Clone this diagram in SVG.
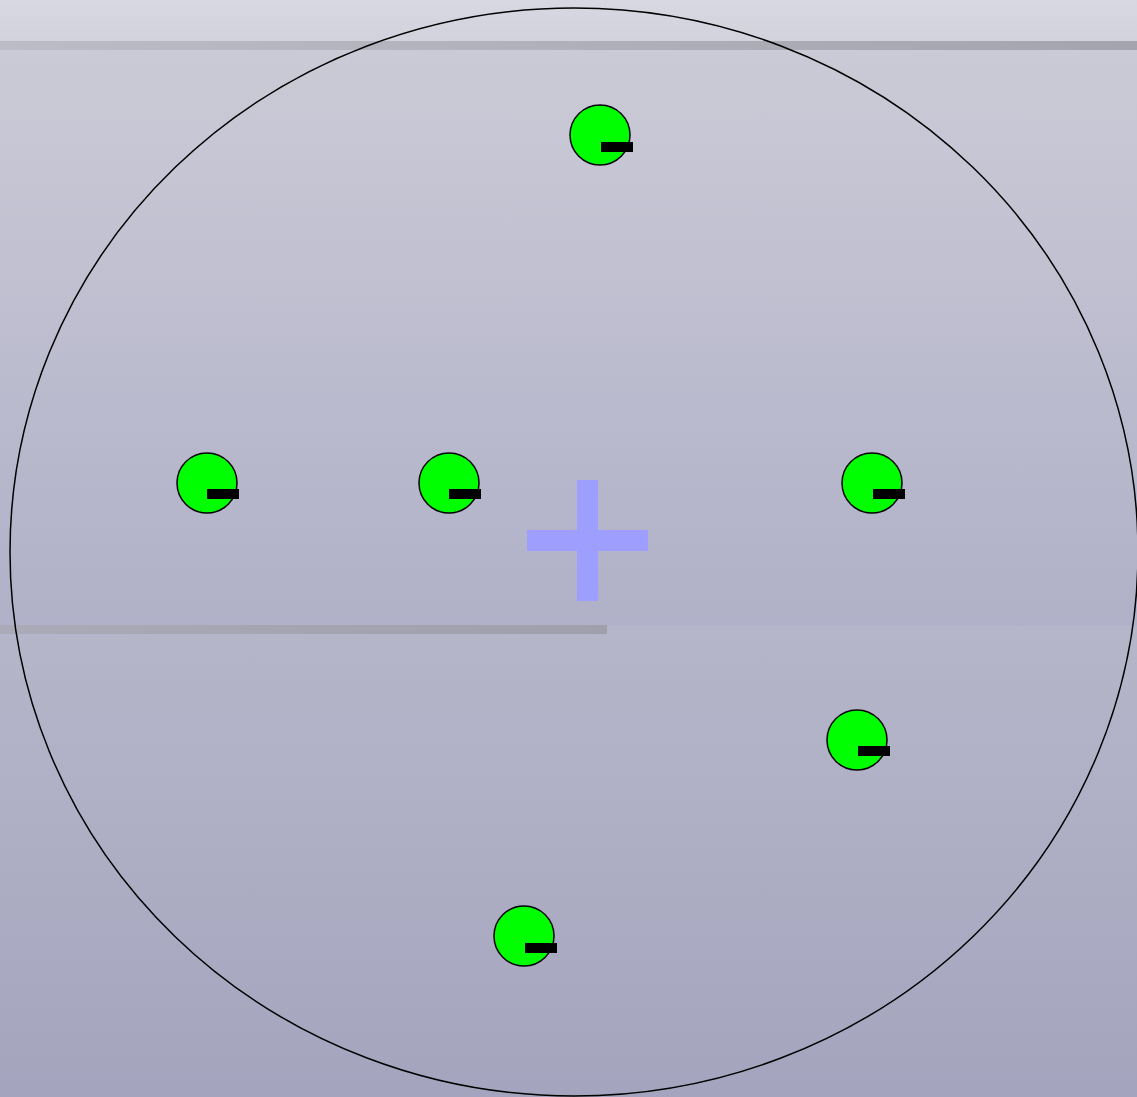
<svg xmlns="http://www.w3.org/2000/svg" width="1137" height="1097" viewBox="0 0 1137 1097">
<defs>
<linearGradient id="bgA" x1="0" y1="0" x2="0" y2="1">
<stop offset="0" stop-color="#d8d8e2"/>
<stop offset="1" stop-color="#d2d2dc"/>
</linearGradient>
<linearGradient id="bgB" x1="0" y1="0" x2="0" y2="1">
<stop offset="0" stop-color="#cbcbd7"/>
<stop offset="1" stop-color="#b0b0c8"/>
</linearGradient>
<linearGradient id="bgC" x1="0" y1="0" x2="0" y2="1">
<stop offset="0" stop-color="#b6b6ca"/>
<stop offset="1" stop-color="#a4a4be"/>
</linearGradient>
<linearGradient id="band" x1="0" y1="0" x2="1" y2="0">
<stop offset="0" stop-color="#bcbcc6"/>
<stop offset="1" stop-color="#a4a4ae"/>
</linearGradient>
<linearGradient id="band2" x1="0" y1="0" x2="1" y2="0">
<stop offset="0" stop-color="#aaaab8"/>
<stop offset="1" stop-color="#a0a0ac"/>
</linearGradient>
<style>
.node circle{fill:#00ff00;stroke:#000;stroke-width:1.5}
.node rect{fill:#000}
.cross{fill:#9e9eff}
</style>
</defs>
<rect x="0" y="0" width="1137" height="41" fill="url(#bgA)"/>
<rect x="0" y="41" width="1137" height="585" fill="url(#bgB)"/>
<rect x="0" y="626" width="1137" height="471" fill="url(#bgC)"/>
<rect x="0" y="41" width="1137" height="9" fill="url(#band)"/>
<rect x="0" y="625" width="607" height="9" fill="url(#band2)"/>
<ellipse cx="574" cy="552" rx="564" ry="544" fill="none" stroke="#000" stroke-width="1.5"/>
<g id="cross" class="cross">
<rect x="577" y="480" width="21" height="121"/>
<rect x="527" y="530" width="121" height="21"/>
</g>
<g id="n1" class="node"><circle cx="600" cy="135" r="30"/><rect x="601" y="142" width="32" height="10"/></g>
<g id="n2" class="node"><circle cx="207" cy="483" r="30"/><rect x="207" y="489" width="32" height="10"/></g>
<g id="n3" class="node"><circle cx="449" cy="483" r="30"/><rect x="449" y="489" width="32" height="10"/></g>
<g id="n4" class="node"><circle cx="872" cy="483" r="30"/><rect x="873" y="489" width="32" height="10"/></g>
<g id="n5" class="node"><circle cx="857" cy="740" r="30"/><rect x="858" y="746" width="32" height="10"/></g>
<g id="n6" class="node"><circle cx="524" cy="936" r="30"/><rect x="525" y="943" width="32" height="10"/></g>
<g id="connectors"></g>
</svg>
